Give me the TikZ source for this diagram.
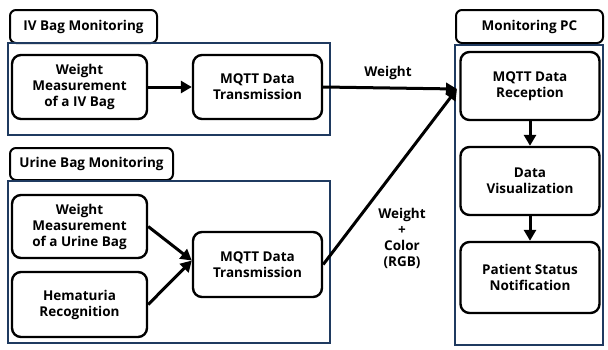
\documentclass[tikz,border=0pt]{standalone}
\usepackage{fontspec}
\setmainfont{Open Sans}[BoldFont={* Bold}]
\usetikzlibrary{arrows.meta}
\definecolor{navy}{HTML}{1F3A60}
\begin{document}
\begin{tikzpicture}[x=1pt,y=-1pt,
  box/.style={draw=black,line width=2.4pt,rounded corners=9pt,align=center,
    font=\bfseries\fontsize{13.5}{16}\selectfont,inner sep=0pt},
  tab/.style={draw=black,line width=2pt,rounded corners=6pt,align=center,
    font=\bfseries\fontsize{13.5}{15}\selectfont,inner sep=0pt},
  frame/.style={draw=navy,line width=1.8pt},
  arr/.style={line width=3pt,-{Triangle[length=11pt,width=12pt]}},
  lbl/.style={align=center,font=\bfseries\fontsize{13.5}{16}\selectfont}]
\useasboundingbox (0,0) rectangle (608,349);
% tabs
\node[tab,minimum width=147pt,minimum height=33pt] (tabiv) at (83.5,26.5) {IV Bag Monitoring};
\node[tab,minimum width=163pt,minimum height=32pt] (tabur) at (91.5,164) {Urine Bag Monitoring};
\node[tab,minimum width=147pt,minimum height=33pt] (tabpc) at (529.5,26.5) {Monitoring PC};
% frames
\draw[frame] (8,43) rectangle (330,135);
\draw[frame] (8,181) rectangle (330,343);
\draw[frame] (455,45) rectangle (603,345);
\coordinate (hit) at (457,89);
% IV boxes
\node[box,minimum width=135pt,minimum height=64pt] (ivw) at (79.5,87) {Weight\\Measurement\\of a IV Bag};
\node[box,minimum width=129pt,minimum height=64pt] (ivm) at (257.5,87) {MQTT Data\\Transmission};
% Urine boxes
\node[box,minimum width=135pt,minimum height=63pt] (urw) at (79.5,226.5) {Weight\\Measurement\\of a Urine Bag};
\node[box,minimum width=135pt,minimum height=65pt] (hem) at (79.5,304.5) {Hematuria\\Recognition};
\node[box,minimum width=129pt,minimum height=65pt] (urm) at (257.5,264.5) {MQTT Data\\Transmission};
% PC boxes
\node[box,minimum width=139pt,minimum height=68pt] (rec) at (530,86) {MQTT Data\\Reception};
\node[box,minimum width=139pt,minimum height=68pt] (vis) at (530,181) {Data\\Visualization};
\node[box,minimum width=139pt,minimum height=71pt] (not) at (530,277.5) {Patient Status\\Notification};
% arrows
\draw[arr] (ivw) -- (ivm);
\draw[arr] (urw.east) -- ([yshift=4pt]urm.west);
\draw[arr] (hem.east) -- ([yshift=4pt]urm.west);
\draw[arr] (ivm.east) -- (hit);
\draw[arr] (urm.east) -- (hit);
\draw[arr] (rec) -- (vis);
\draw[arr] (vis) -- (not);
% labels
\node[lbl] (lw) at (388,73) {Weight};
\node[lbl] (lwc) at (402,238) {Weight\\+\\Color\\(RGB)};
\end{tikzpicture}
\end{document}
